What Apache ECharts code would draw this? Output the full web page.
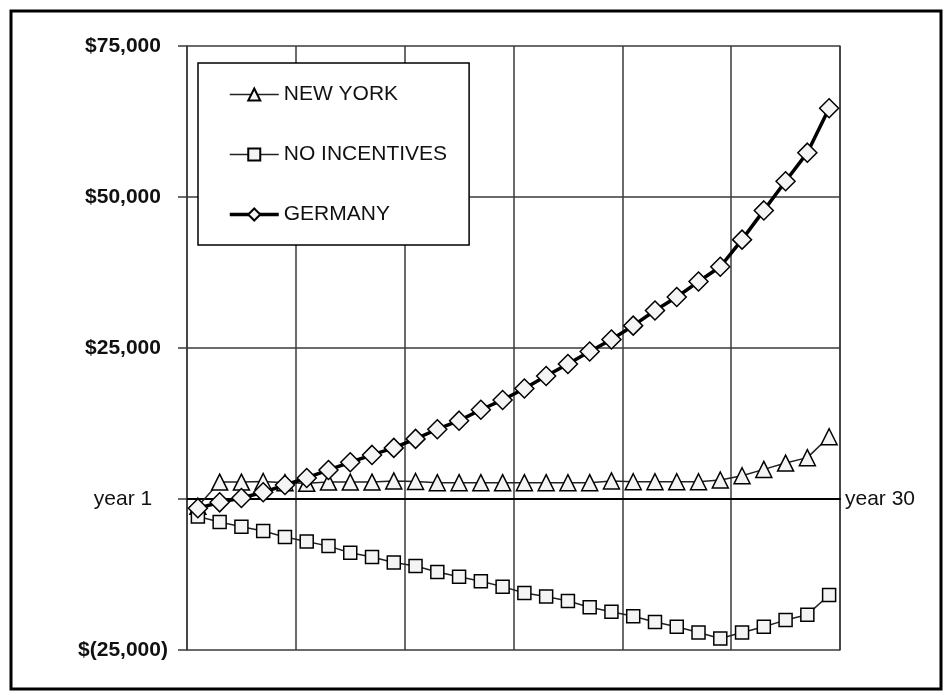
<!DOCTYPE html>
<html>
<head>
<meta charset="utf-8">
<style>
  html, body { margin: 0; padding: 0; background: #fff; }
  #chart { width: 952px; height: 700px; }
</style>
<script src="https://cdn.jsdelivr.net/npm/echarts@6/dist/echarts.min.js"></script>
</head>
<body>
<div id="chart"></div>
<script>
// Years 1..30 along the horizontal axis
const years = ['1','2','3','4','5','6','7','8','9','10','11','12','13','14','15',
               '16','17','18','19','20','21','22','23','24','25','26','27','28','29','30'];

// Cumulative position by year, in dollars
const newYork = [-1200, 2800, 2800, 2900, 2700, 2600, 2800, 2800, 2800, 3000,
                 2900, 2700, 2700, 2700, 2700, 2700, 2700, 2700, 2700, 3000,
                 2850, 2850, 2850, 2850, 3150, 3850, 4900, 5950, 6850, 10300];
const noIncentives = [-2900, -3800, -4600, -5300, -6300, -7050, -7800, -8900, -9600, -10500,
                      -11100, -12070, -12880, -13610, -14510, -15550, -16130, -16880, -17910, -18650,
                      -19400, -20350, -21150, -22100, -23100, -22100, -21150, -20050, -19150, -15900];
const germany = [-1540, -550, 170, 1110, 2320, 3480, 4810, 6080, 7300, 8460,
                 9950, 11550, 12970, 14780, 16400, 18290, 20360, 22350, 24420, 26400,
                 28700, 31200, 33450, 36000, 38450, 42940, 47780, 52600, 57340, 64700];

// Value-axis ticks and the labels shown at the two ends of the zero line
const yTicks = [-25000, 0, 25000, 50000, 75000];
const firstYearLabel = 'year 1';
const lastYearLabel = 'year 30';
const seriesNames = ['NEW YORK', 'NO INCENTIVES', 'GERMANY'];

const FONT = '"Liberation Sans", Arial, sans-serif';

function money(v) {
  const s = Math.abs(v).toLocaleString('en-US');
  return v < 0 ? '$(' + s + ')' : '$' + s;
}

const markerFill = '#f4f4f4';
const thinLine = 1.5;
const thickLine = 3.5;

const chart = echarts.init(document.getElementById('chart'), null, { renderer: 'canvas' });
chart.setOption({
  animation: false,
  backgroundColor: '#fff',
  graphic: [{
    type: 'rect',
    shape: { x: 11, y: 11, width: 930, height: 678 },
    style: { fill: 'none', stroke: '#000', lineWidth: 3 },
    z: -1, silent: true
  }],
  grid: { left: 187, right: 112, top: 46, bottom: 50 },
  legend: {
    orient: 'vertical',
    left: 198, top: 63,
    backgroundColor: '#fff',
    borderColor: '#000', borderWidth: 1.5,
    padding: [21, 22, 20, 30],
    itemGap: 39,
    itemWidth: 49, itemHeight: 15,
    textStyle: { fontFamily: FONT, fontSize: 21, color: '#111' },
    data: [
      { name: seriesNames[0], lineStyle: { width: thinLine } },
      { name: seriesNames[1], lineStyle: { width: thinLine } },
      { name: seriesNames[2], lineStyle: { width: thickLine } }
    ]
  },
  xAxis: {
    type: 'category',
    data: years,
    boundaryGap: true,
    axisLine: { onZero: true, lineStyle: { color: '#000', width: 2 } },
    axisTick: { show: false },
    axisLabel: { show: false },
    splitLine: {
      show: true,
      interval: (i) => i % 5 === 0,
      lineStyle: { color: '#3a3a3a', width: 1.5 }
    }
  },
  yAxis: [{
    type: 'value',
    min: yTicks[0], max: yTicks[yTicks.length - 1], interval: 25000,
    axisLine: { show: true, lineStyle: { color: '#3a3a3a', width: 1.5 } },
    axisTick: { show: true, length: 9, lineStyle: { color: '#3a3a3a', width: 1.5 } },
    splitLine: { show: true, lineStyle: { color: '#3a3a3a', width: 1.5 } },
    axisLabel: {
      align: 'center',
      margin: 64,
      formatter: (v) => v === 0 ? '{r|' + firstYearLabel + '}' : '{b|' + money(v) + '}',
      rich: {
        b: { fontFamily: FONT, fontSize: 21, fontWeight: 'bold', color: '#111' },
        r: { fontFamily: FONT, fontSize: 21, color: '#111' }
      }
    }
  }, {
    type: 'value',
    position: 'right',
    min: yTicks[0], max: yTicks[yTicks.length - 1], interval: 25000,
    axisLine: { show: true, lineStyle: { color: '#3a3a3a', width: 1.5 } },
    axisTick: { show: false },
    splitLine: { show: false },
    axisLabel: {
      align: 'left',
      margin: 5,
      fontFamily: FONT, fontSize: 21, color: '#111',
      formatter: (v) => v === 0 ? lastYearLabel : ''
    }
  }],
  series: [{
    name: seriesNames[0],
    type: 'line',
    data: newYork,
    symbol: 'triangle', symbolSize: 16,
    showSymbol: true, showAllSymbol: true,
    lineStyle: { color: '#222', width: thinLine },
    itemStyle: { color: markerFill, borderColor: '#000', borderWidth: 1.5 },
    z: 3
  }, {
    name: seriesNames[1],
    type: 'line',
    data: noIncentives,
    symbol: 'rect', symbolSize: 13,
    showSymbol: true, showAllSymbol: true,
    lineStyle: { color: '#222', width: thinLine },
    itemStyle: { color: markerFill, borderColor: '#000', borderWidth: 1.5 },
    z: 4
  }, {
    name: seriesNames[2],
    type: 'line',
    data: germany,
    symbol: 'diamond', symbolSize: 19,
    showSymbol: true, showAllSymbol: true,
    lineStyle: { color: '#000', width: thickLine },
    itemStyle: { color: markerFill, borderColor: '#000', borderWidth: 1.5 },
    z: 5
  }]
});
</script>
</body>
</html>
